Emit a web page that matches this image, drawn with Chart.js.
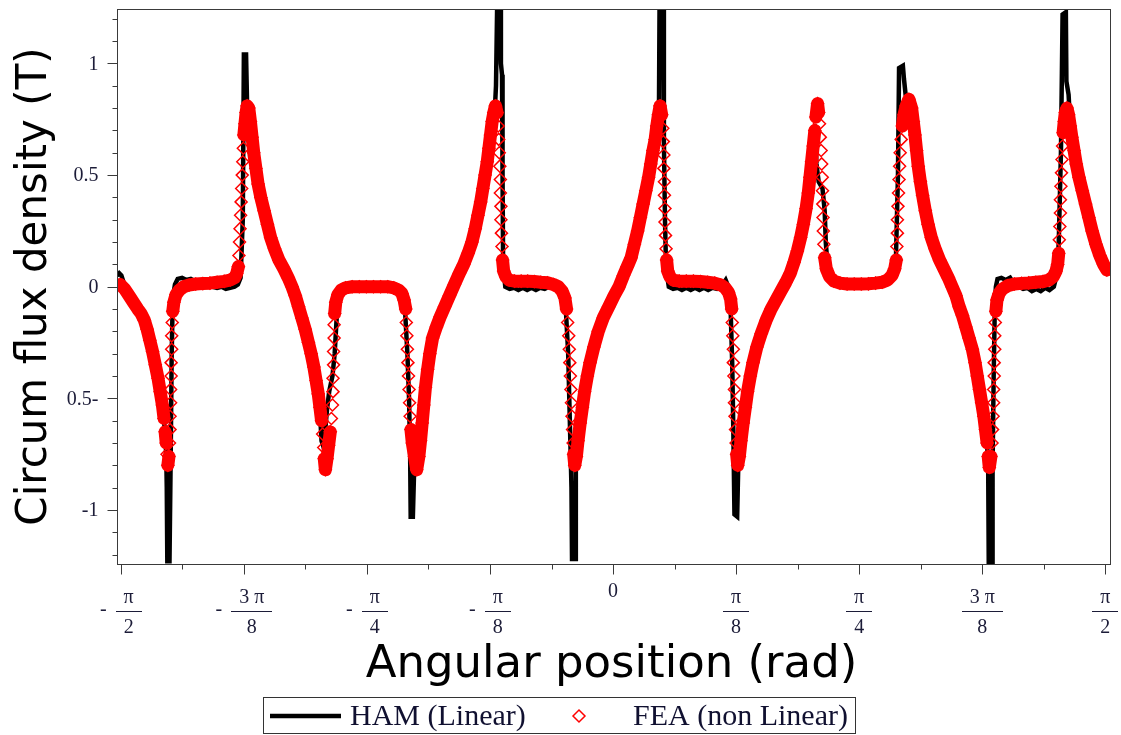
<!DOCTYPE html>
<html>
<head>
<meta charset="utf-8">
<script src="https://cdn.jsdelivr.net/npm/chart.js@4/dist/chart.umd.min.js"></script>
<style>
  html, body { margin: 0; padding: 0; background: #ffffff; }
  canvas { display: block; }
</style>
</head>
<body>
<canvas id="plot" width="1121" height="735"></canvas>
<script>
// Circumferential flux density along the air gap: [angle in degrees, B in tesla]
const hamPoints = [
  [-90.7,0.05],[-90.3,0.06],[-89.9,0.05],[-89.5,0.02],[-88.8,-0.02],[-87.9,-0.06],[-86.8,-0.10],[-85.7,-0.15],[-84.9,-0.22],[-84.2,-0.29],
  [-83.4,-0.38],[-82.8,-0.47],[-82.2,-0.57],[-81.9,-0.66],[-81.7,-0.75],[-81.6,-0.90],[-81.5,-1.23],[-81.1,-1.23],[-80.9,-0.80],[-80.7,-0.30],
  [-80.5,-0.05],[-80.1,0.01],[-79.6,0.035],[-78.8,0.04],[-78.0,0.03],[-77.2,0.035],[-76.4,0.025],[-75.6,0.02],[-74.8,0.01],[-74.0,0.005],
  [-73.2,0.0],[-72.4,-0.005],[-71.6,0.0],[-70.8,-0.01],[-70.0,-0.005],[-69.2,0.0],[-68.6,0.01],[-68.1,0.04],[-67.7,0.30],[-67.5,1.04],
  [-67.1,1.04],[-66.9,0.80],[-66.3,0.74],[-65.7,0.60],[-64.9,0.46],[-63.8,0.34],[-62.6,0.22],[-61.1,0.12],[-59.4,0.04],[-58.1,-0.04],
  [-56.9,-0.14],[-55.7,-0.25],[-54.7,-0.36],[-53.9,-0.48],[-53.5,-0.60],[-53.3,-0.69],[-52.9,-0.72],[-52.3,-0.55],[-51.9,-0.47],[-51.3,-0.40],
  [-50.9,-0.30],[-50.6,-0.17],[-50.4,-0.08],[-50.0,-0.02],[-48.5,-0.005],[-44.0,-0.005],[-40.0,-0.005],[-38.7,-0.025],[-38.0,-0.12],[-37.6,-0.30],
  [-37.3,-0.50],[-37.1,-0.75],[-37.0,-1.03],[-36.6,-1.03],[-36.4,-0.85],[-36.0,-0.78],[-35.2,-0.69],[-34.6,-0.53],[-33.9,-0.37],[-33.0,-0.23],
  [-31.6,-0.135],[-29.9,-0.04],[-28.1,0.06],[-26.5,0.15],[-25.2,0.26],[-24.2,0.38],[-23.4,0.50],[-22.7,0.62],[-22.1,0.74],[-21.6,0.80],
  [-21.4,0.90],[-21.2,1.24],[-20.6,1.24],[-20.5,1.00],[-20.3,0.95],[-20.2,0.50],[-20.1,0.10],[-19.7,0.0],[-18.9,-0.01],[-18.1,-0.005],
  [-17.3,-0.015],[-16.5,-0.005],[-15.7,-0.015],[-14.9,-0.005],[-14.1,-0.015],[-13.3,-0.005],[-12.5,-0.01],[-11.7,0.0],[-10.9,-0.005],[-10.1,-0.01],
  [-9.3,-0.03],[-8.7,-0.07],[-8.2,-0.30],[-7.8,-0.70],[-7.6,-0.90],[-7.5,-1.22],[-6.9,-1.22],[-6.8,-0.80],[-6.4,-0.69],[-5.6,-0.54],
  [-4.7,-0.40],[-3.5,-0.27],[-1.8,-0.14],[0.2,-0.04],[1.9,0.05],[3.3,0.13],[4.5,0.25],[5.5,0.37],[6.5,0.49],[7.3,0.61],
  [8.0,0.72],[8.4,0.80],[8.5,1.24],[9.2,1.24],[9.3,0.65],[9.5,0.30],[9.7,0.08],[10.2,0.0],[11.0,-0.01],[11.8,-0.005],
  [12.6,-0.015],[13.4,-0.005],[14.2,-0.015],[15.0,-0.005],[15.8,-0.015],[16.6,-0.005],[17.4,-0.015],[18.2,-0.005],[19.0,-0.01],[19.8,0.0],
  [20.6,0.03],[21.1,0.0],[21.5,-0.10],[21.8,-0.35],[22.0,-0.65],[22.2,-1.02],[22.7,-1.03],[22.9,-0.80],[23.4,-0.69],[24.2,-0.54],
  [25.1,-0.40],[26.3,-0.27],[28.0,-0.15],[29.8,-0.06],[31.6,0.02],[33.1,0.11],[34.3,0.22],[35.3,0.35],[35.8,0.50],[36.1,0.62],
  [36.3,0.70],[36.9,0.71],[37.2,0.55],[37.6,0.47],[38.3,0.44],[38.7,0.34],[38.9,0.20],[39.2,0.10],[39.7,0.04],[42.0,0.012],
  [46.0,0.012],[50.0,0.02],[51.3,0.05],[51.7,0.10],[52.1,0.50],[52.3,0.98],[53.0,0.99],[53.2,0.93],[53.5,0.86],[54.2,0.83],
  [54.9,0.74],[55.5,0.61],[56.2,0.47],[57.1,0.34],[58.2,0.22],[59.7,0.12],[61.3,0.04],[62.7,-0.04],[63.9,-0.13],[65.1,-0.23],
  [66.2,-0.34],[67.0,-0.46],[67.8,-0.58],[68.4,-0.70],[68.6,-0.82],[68.7,-1.24],[69.3,-1.24],[69.4,-0.80],[69.6,-0.40],[69.8,-0.10],
  [70.0,0.0],[70.3,0.035],[71.0,0.04],[71.8,0.03],[72.6,0.04],[73.4,0.01],[74.2,0.0],[75.0,-0.01],[75.8,-0.005],[76.6,-0.02],
  [77.4,-0.01],[78.2,-0.02],[79.0,-0.005],[79.8,-0.015],[80.6,0.0],[81.2,0.06],[81.5,0.20],[81.9,0.60],[82.2,1.22],[82.8,1.23],
  [82.9,0.92],[83.3,0.86],[83.6,0.72],[84.3,0.61],[85.2,0.49],[86.4,0.37],[87.6,0.25],[89.0,0.14],[90.3,0.075]
];

const feaPoints = [
  [-90.1,0.01],[-89.3,-0.01],[-88.5,-0.04],[-87.7,-0.07],[-86.9,-0.10],[-86.3,-0.12],[-85.7,-0.15],[-85.2,-0.19],[-84.7,-0.24],[-84.2,-0.29],
  [-83.7,-0.35],[-83.2,-0.41],[-82.8,-0.47],[-82.4,-0.53],[-82.1,-0.59],[-81.9,-0.65],[-81.7,-0.70],[-81.55,-0.75],[-81.4,-0.80],
  [-81.2,-0.76],[-81.1,-0.70],[-81.0,-0.64],[-81.0,-0.58],[-80.9,-0.52],[-80.9,-0.46],[-80.8,-0.40],[-80.8,-0.34],[-80.7,-0.28],[-80.7,-0.22],
  [-80.6,-0.16],[-80.5,-0.11],[-80.3,-0.07],
  [-79.9,-0.035],[-79.3,-0.015],[-78.5,0.0],[-77.5,0.008],[-76.3,0.012],[-75.0,0.014],[-73.7,0.016],[-72.4,0.02],[-71.1,0.024],[-70.0,0.03],
  [-69.2,0.04],[-68.8,0.06],[-68.5,0.09],
  [-68.4,0.14],[-68.3,0.20],[-68.2,0.26],[-68.1,0.32],[-68.0,0.38],[-67.9,0.44],[-67.8,0.50],[-67.7,0.56],[-67.6,0.62],[-67.5,0.68],
  [-67.3,0.73],[-67.1,0.78],[-66.9,0.81],
  [-66.6,0.80],[-66.3,0.74],[-66.0,0.67],[-65.7,0.60],[-65.3,0.53],[-64.9,0.46],[-64.4,0.40],[-63.8,0.34],[-63.2,0.28],[-62.6,0.22],
  [-61.9,0.17],[-61.1,0.12],[-60.2,0.08],[-59.4,0.04],[-58.7,0.0],[-58.1,-0.04],[-57.5,-0.09],[-56.9,-0.14],[-56.3,-0.19],[-55.7,-0.25],
  [-55.2,-0.30],[-54.7,-0.36],[-54.3,-0.42],[-53.9,-0.48],[-53.6,-0.54],[-53.3,-0.60],[-53.1,-0.66],[-52.9,-0.72],[-52.8,-0.77],[-52.6,-0.82],
  [-52.3,-0.77],[-52.0,-0.71],[-51.7,-0.65],[-51.5,-0.59],[-51.3,-0.53],[-51.2,-0.47],[-51.2,-0.41],[-51.1,-0.35],[-51.1,-0.29],[-51.0,-0.23],
  [-51.0,-0.17],[-50.9,-0.12],[-50.7,-0.07],
  [-50.3,-0.035],[-49.7,-0.015],[-48.9,-0.005],[-47.7,0.0],[-46.4,0.0],[-45.1,0.0],[-43.8,0.0],[-42.5,0.0],[-41.2,0.0],[-40.1,-0.005],
  [-39.2,-0.015],[-38.6,-0.03],[-38.2,-0.06],
  [-37.9,-0.10],[-37.8,-0.16],[-37.7,-0.22],[-37.6,-0.28],[-37.5,-0.34],[-37.4,-0.40],[-37.3,-0.46],[-37.2,-0.52],[-37.1,-0.58],[-36.95,-0.64],
  [-36.7,-0.70],[-36.3,-0.76],[-35.9,-0.82],
  [-35.5,-0.76],[-35.2,-0.69],[-34.9,-0.61],[-34.6,-0.53],[-34.3,-0.45],[-33.9,-0.37],[-33.5,-0.30],[-33.0,-0.23],[-32.3,-0.18],[-31.6,-0.135],
  [-30.8,-0.09],[-29.9,-0.04],[-29.0,0.01],[-28.1,0.06],[-27.3,0.10],[-26.5,0.15],[-25.8,0.20],[-25.2,0.26],[-24.7,0.32],[-24.2,0.38],
  [-23.8,0.44],[-23.4,0.50],[-23.0,0.56],[-22.7,0.62],[-22.4,0.68],[-22.1,0.74],[-21.8,0.78],[-21.5,0.81],
  [-21.2,0.78],[-21.0,0.72],[-20.9,0.66],[-20.8,0.60],[-20.7,0.54],[-20.6,0.48],[-20.6,0.42],[-20.5,0.36],[-20.5,0.30],[-20.4,0.24],
  [-20.3,0.18],[-20.2,0.12],[-20.0,0.07],
  [-19.6,0.045],[-19.0,0.03],[-18.0,0.025],[-16.8,0.025],[-15.6,0.025],[-14.4,0.023],[-13.2,0.02],[-12.0,0.018],[-10.9,0.01],[-10.0,0.0],
  [-9.3,-0.02],[-8.8,-0.05],
  [-8.5,-0.10],[-8.3,-0.16],[-8.1,-0.22],[-8.0,-0.28],[-7.9,-0.34],[-7.8,-0.40],[-7.7,-0.46],[-7.6,-0.52],[-7.5,-0.58],[-7.4,-0.64],
  [-7.3,-0.70],[-7.2,-0.75],[-7.0,-0.80],
  [-6.7,-0.76],[-6.4,-0.69],[-6.0,-0.61],[-5.6,-0.54],[-5.2,-0.47],[-4.7,-0.40],[-4.2,-0.34],[-3.5,-0.27],[-2.7,-0.20],[-1.8,-0.14],
  [-0.8,-0.09],[0.2,-0.04],[1.1,0.0],[1.9,0.05],[2.6,0.09],[3.3,0.13],[3.9,0.19],[4.5,0.25],[5.0,0.31],[5.5,0.37],
  [6.0,0.43],[6.5,0.49],[6.9,0.55],[7.3,0.61],[7.7,0.66],[8.0,0.72],[8.3,0.77],[8.6,0.81],
  [8.9,0.77],[9.1,0.71],[9.2,0.65],[9.3,0.59],[9.3,0.53],[9.4,0.47],[9.4,0.41],[9.5,0.35],[9.5,0.29],[9.6,0.23],
  [9.7,0.17],[9.8,0.12],[10.0,0.07],
  [10.4,0.045],[11.0,0.03],[12.1,0.025],[13.4,0.025],[14.7,0.025],[16.0,0.023],[17.3,0.02],[18.6,0.016],[19.7,0.008],[20.5,-0.005],
  [21.1,-0.025],[21.5,-0.055],
  [21.7,-0.10],[21.8,-0.16],[21.9,-0.22],[22.0,-0.28],[22.0,-0.34],[22.1,-0.40],[22.2,-0.46],[22.2,-0.52],[22.3,-0.58],[22.4,-0.64],
  [22.5,-0.70],[22.6,-0.75],[22.8,-0.80],
  [23.1,-0.76],[23.4,-0.69],[23.8,-0.61],[24.2,-0.54],[24.6,-0.47],[25.1,-0.40],[25.6,-0.34],[26.3,-0.27],[27.1,-0.21],[28.0,-0.15],
  [28.9,-0.10],[29.8,-0.06],[30.7,-0.02],[31.6,0.02],[32.4,0.06],[33.1,0.11],[33.7,0.16],[34.3,0.22],[34.8,0.28],[35.3,0.35],
  [35.7,0.42],[36.0,0.49],[36.3,0.56],[36.6,0.63],[36.9,0.70],[37.1,0.76],[37.4,0.82],
  [37.6,0.78],[37.75,0.73],[37.9,0.67],[38.05,0.61],[38.15,0.55],[38.25,0.49],[38.3,0.43],[38.35,0.37],[38.4,0.31],[38.45,0.25],
  [38.55,0.19],[38.7,0.13],[39.0,0.08],
  [39.6,0.045],[40.4,0.025],[41.5,0.016],[42.8,0.012],[44.1,0.012],[45.4,0.012],[46.7,0.013],[48.0,0.016],[49.2,0.02],[50.2,0.03],
  [51.0,0.05],[51.5,0.08],
  [51.8,0.12],[51.9,0.18],[52.0,0.24],[52.0,0.30],[52.1,0.36],[52.2,0.42],[52.3,0.48],[52.4,0.54],[52.5,0.60],[52.7,0.66],
  [52.9,0.72],[53.2,0.77],[53.6,0.81],[54.1,0.84],
  [54.6,0.80],[54.9,0.74],[55.2,0.68],[55.5,0.61],[55.8,0.54],[56.2,0.47],[56.6,0.41],[57.1,0.34],[57.6,0.28],[58.2,0.22],
  [58.9,0.17],[59.7,0.12],[60.5,0.08],[61.3,0.04],[62.0,0.0],[62.7,-0.04],[63.3,-0.09],[63.9,-0.13],[64.5,-0.18],[65.1,-0.23],
  [65.7,-0.28],[66.2,-0.34],[66.6,-0.40],[67.0,-0.46],[67.4,-0.52],[67.8,-0.58],[68.1,-0.64],[68.4,-0.70],[68.6,-0.76],[68.8,-0.81],
  [69.1,-0.76],[69.3,-0.70],[69.4,-0.64],[69.5,-0.58],[69.6,-0.52],[69.6,-0.46],[69.7,-0.40],[69.7,-0.34],[69.8,-0.28],[69.8,-0.22],
  [69.9,-0.16],[70.0,-0.11],[70.2,-0.06],
  [70.6,-0.03],[71.2,-0.01],[72.2,0.005],[73.4,0.012],[74.7,0.015],[76.0,0.017],[77.3,0.02],[78.6,0.023],[79.7,0.03],[80.5,0.045],
  [81.0,0.07],[81.3,0.10],
  [81.5,0.15],[81.6,0.21],[81.7,0.27],[81.8,0.33],[81.8,0.39],[81.9,0.45],[82.0,0.51],[82.1,0.57],[82.2,0.63],[82.3,0.69],
  [82.5,0.74],[82.7,0.78],[83.0,0.80],
  [83.3,0.77],[83.6,0.72],[83.9,0.67],[84.3,0.61],[84.7,0.55],[85.2,0.49],[85.8,0.43],[86.4,0.37],[87.0,0.31],[87.6,0.25],
  [88.3,0.19],[89.0,0.14],[89.7,0.10],[90.3,0.075]
];

const seriesLabels = ['HAM (Linear)', 'FEA (non Linear)'];

// Angle ticks in steps of π/8, written as stacked fractions
const xTickSteps = [-4, -3, -2, -1, 0, 1, 2, 3, 4];
const xTickSigns = ['-', '-', '-', '-', '', '', '', '', ''];
const xTickNumerators = ['π', '3 π', 'π', 'π', '0', 'π', 'π', '3 π', 'π'];
const xTickDenominators = ['2', '8', '4', '8', '', '8', '4', '8', '2'];

const yTickValues = [1, 0.5, 0, -0.5, -1];
const yTickLabels = ['1', '0.5', '0', '0.5-', '-1'];

const xAxisTitle = 'Angular position (rad)';
const yAxisTitle = 'Circum flux density (T)';

// ---------------------------------------------------------------------------
const DEG = Math.PI / 180;
const toXY = pts => pts.map(p => ({ x: p[0] * DEG, y: p[1] }));

const HAM_COLOR = '#000000';
const FEA_COLOR = '#ff0000';
const FRAME_COLOR = '#3a3a3a';
const TICK_TEXT = '#1c1c38';
const TICK_FONT = '20px "Liberation Serif", "Times New Roman", serif';
const TITLE_FONT_X = '45px "DejaVu Sans", Verdana, sans-serif';
const TITLE_FONT_Y = '42px "DejaVu Sans", Verdana, sans-serif';
const LEGEND_FONT = '30px "Liberation Serif", "Times New Roman", serif';
const MARKER = { pointStyle: 'rectRot', radius: 6, borderWidth: 1.5 };

function drawDiamond(ctx, x, y) {
  ctx.save();
  ctx.strokeStyle = FEA_COLOR;
  ctx.fillStyle = 'rgba(0,0,0,0)';
  ctx.lineWidth = MARKER.borderWidth;
  if (Chart.helpers && Chart.helpers.drawPoint) {
    Chart.helpers.drawPoint(ctx, { pointStyle: MARKER.pointStyle, radius: MARKER.radius, rotation: 0, borderWidth: MARKER.borderWidth }, x, y);
  } else {
    const r = MARKER.radius;
    ctx.beginPath();
    ctx.moveTo(x, y - r); ctx.lineTo(x + r, y); ctx.lineTo(x, y + r); ctx.lineTo(x - r, y); ctx.closePath();
    ctx.stroke();
  }
  ctx.restore();
}

// Boxed frame, outward ticks, fraction tick labels, titles and legend box
const plotDecorations = {
  id: 'plotDecorations',
  afterDatasetsDraw(chart) {
    const { ctx, chartArea: a, scales } = chart;
    const xs = scales.x, ys = scales.y;
    const L = Math.round(a.left) + 0.5, R = Math.round(a.right) + 0.5;
    const T = Math.round(a.top) + 0.5, B = Math.round(a.bottom) + 0.5;

    ctx.save();
    ctx.strokeStyle = FRAME_COLOR;
    ctx.lineWidth = 1;
    ctx.strokeRect(L, T, R - L, B - T);

    // y ticks: every 0.1, long ones every 0.5
    ctx.beginPath();
    for (let k = -12; k <= 12; k++) {
      const py = Math.round(ys.getPixelForValue(k / 10)) + 0.5;
      const len = (k % 5 === 0) ? 10 : 5;
      ctx.moveTo(L - len, py); ctx.lineTo(L, py);
    }
    // x ticks: every π/16, long ones every π/8
    for (let k = -8; k <= 8; k++) {
      const px = Math.round(xs.getPixelForValue(k * Math.PI / 16)) + 0.5;
      const len = (k % 2 === 0) ? 10 : 5;
      ctx.moveTo(px, B); ctx.lineTo(px, B + len);
    }
    ctx.stroke();

    // y tick labels
    ctx.font = TICK_FONT;
    ctx.fillStyle = TICK_TEXT;
    ctx.textAlign = 'right';
    ctx.textBaseline = 'middle';
    yTickValues.forEach((v, i) => {
      ctx.fillText(yTickLabels[i], L - 19, ys.getPixelForValue(v) + 1);
    });

    // x tick labels as stacked fractions
    ctx.textBaseline = 'middle';
    xTickSteps.forEach((s, i) => {
      const cx = xs.getPixelForValue(s * Math.PI / 8);
      const num = xTickNumerators[i], den = xTickDenominators[i], sign = xTickSigns[i];
      ctx.textAlign = 'center';
      if (!den) { ctx.fillText(num, cx, a.bottom + 28); return; }
      const barW = Math.max(ctx.measureText(num).width, ctx.measureText(den).width) + 16;
      const signW = sign ? ctx.measureText(sign).width + 9 : 0;
      const left = cx - (signW + barW) / 2;
      if (sign) {
        ctx.textAlign = 'left';
        ctx.fillText(sign, left, a.bottom + 46);
        ctx.textAlign = 'center';
      }
      const bx = left + signW;
      ctx.fillRect(Math.round(bx), Math.round(a.bottom + 47), Math.round(barW), 1);
      ctx.fillText(num, bx + barW / 2, a.bottom + 34);
      ctx.fillText(den, bx + barW / 2, a.bottom + 64);
    });

    // axis titles
    ctx.fillStyle = '#000000';
    ctx.font = TITLE_FONT_X;
    ctx.textAlign = 'center';
    ctx.textBaseline = 'alphabetic';
    ctx.fillText(xAxisTitle, (a.left + a.right) / 2 - 2, a.bottom + 113);

    ctx.save();
    ctx.translate(35, (a.top + a.bottom) / 2);
    ctx.rotate(-Math.PI / 2);
    ctx.font = TITLE_FONT_Y;
    ctx.textAlign = 'center';
    ctx.textBaseline = 'middle';
    ctx.fillText(yAxisTitle, 0, 0);
    ctx.restore();

    // legend box
    const lx = 263.5, ly = 697.5, lw = 592, lh = 36, mid = 716;
    ctx.strokeStyle = '#333333';
    ctx.lineWidth = 1;
    ctx.strokeRect(lx, ly, lw, lh);

    const ham = chart.data.datasets[0], fea = chart.data.datasets[1];
    ctx.strokeStyle = ham.borderColor;
    ctx.lineWidth = ham.borderWidth;
    ctx.beginPath();
    ctx.moveTo(270, mid); ctx.lineTo(341, mid);
    ctx.stroke();

    ctx.font = LEGEND_FONT;
    ctx.fillStyle = '#101030';
    ctx.textAlign = 'left';
    ctx.textBaseline = 'middle';
    ctx.fillText(ham.label, 350, mid + 1);
    drawDiamond(ctx, 579, mid);
    ctx.fillText(fea.label, 633, mid + 1);
    ctx.restore();
  }
};

new Chart(document.getElementById('plot'), {
  type: 'scatter',
  data: {
    datasets: [
      {
        label: seriesLabels[0],
        data: toXY(hamPoints),
        showLine: true,
        borderColor: HAM_COLOR,
        borderWidth: 4.5,
        borderJoinStyle: 'miter',
        pointRadius: 0,
        pointHoverRadius: 0,
        tension: 0,
        order: 2
      },
      {
        label: seriesLabels[1],
        data: toXY(feaPoints),
        showLine: true,
        borderColor: FEA_COLOR,
        borderWidth: 13,
        borderJoinStyle: 'round',
        borderCapStyle: 'round',
        tension: 0,
        // densely sampled stretches merge into a solid band; steep jumps show single markers
        segment: {
          borderColor: c => {
            const dx = Math.abs(c.p1.x - c.p0.x), dy = Math.abs(c.p1.y - c.p0.y);
            return (dy <= 6 || dy < 11 * dx) ? FEA_COLOR : 'rgba(0,0,0,0)';
          }
        },
        pointStyle: MARKER.pointStyle,
        pointRadius: MARKER.radius,
        pointHoverRadius: MARKER.radius,
        pointBorderWidth: MARKER.borderWidth,
        pointBorderColor: FEA_COLOR,
        pointBackgroundColor: 'rgba(0,0,0,0)',
        order: 1
      }
    ]
  },
  options: {
    responsive: false,
    devicePixelRatio: 1,
    animation: false,
    events: [],
    layout: { padding: { left: 117, top: 9, right: 11, bottom: 171 } },
    scales: {
      x: { type: 'linear', min: -1.583, max: 1.586, display: false },
      y: { type: 'linear', min: -1.242, max: 1.244, display: false }
    },
    plugins: {
      legend: { display: false },
      tooltip: { enabled: false }
    }
  },
  plugins: [plotDecorations]
});
</script>
</body>
</html>
